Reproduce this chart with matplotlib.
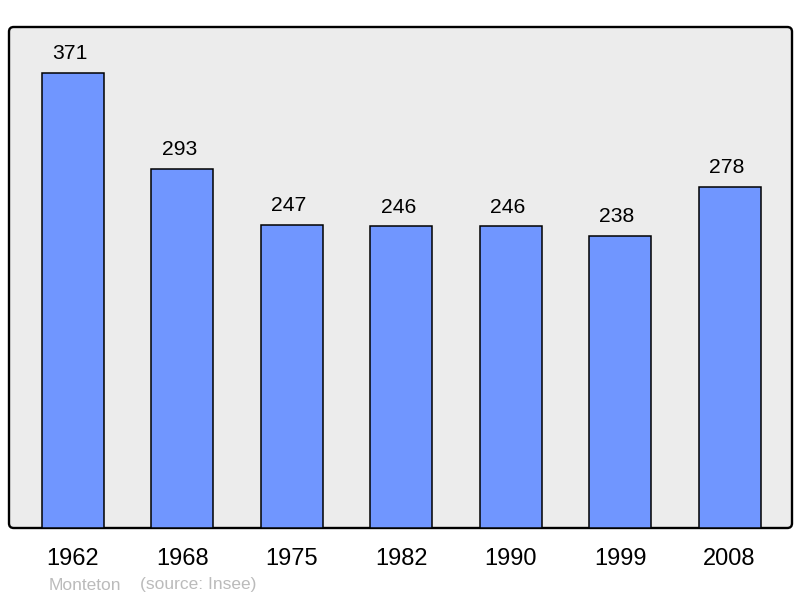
import matplotlib.pyplot as plt
from matplotlib.patches import FancyBboxPatch

plt.rcParams['font.family'] = ['Liberation Sans', 'DejaVu Sans']

# population data
years = ['1962', '1968', '1975', '1982', '1990', '1999', '2008']
population = [371, 293, 247, 246, 246, 238, 278]
commune = 'Monteton'
source = '(source: Insee)'

fig = plt.figure(figsize=(8, 5.98), dpi=100)
ax = fig.add_axes([9/800, 1 - 528/598, 783/800, 501/598])

x = range(len(years))
bars = ax.bar(x, population, width=0.567, color='#7096ff', edgecolor='black', linewidth=1.1, zorder=2)

for xi, v in zip(x, population):
    ax.annotate(str(v), (xi, v), xytext=(-2.2, 7), textcoords='offset points',
                ha='center', va='bottom', fontsize=15.2)

ax.set_xlim(-0.585, 6.571)
ax.set_ylim(0, 408.5)
ax.set_facecolor('none')
ax.set_xticks(list(x))
ax.set_xticklabels(years, fontsize=17)
ax.tick_params(axis='x', length=0, pad=14.5)
ax.set_yticks([])
for s in ax.spines.values():
    s.set_visible(False)

# rounded frame behind the bars
frame = FancyBboxPatch((0, 0), 1, 1, boxstyle='round,pad=0,rounding_size=0.006',
                       mutation_aspect=783/501, transform=ax.transAxes,
                       facecolor='#ececec', edgecolor='black', linewidth=1.7,
                       zorder=0, clip_on=False)
ax.add_patch(frame)

fig.text(49/800, 1 - 585/598, commune, color='#bbbbbb', fontsize=12.5, va='center')
fig.text(140/800, 1 - 585/598, source, color='#bbbbbb', fontsize=12.5, va='center')

fig.savefig('out.png', dpi=100)
